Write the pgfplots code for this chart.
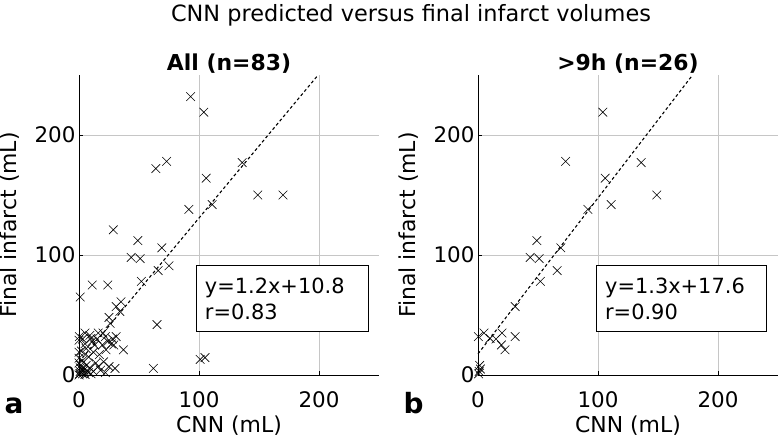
\documentclass[border=0pt]{standalone}
\usepackage{pgfplots}
\pgfplotsset{compat=1.18}
\usepackage{fontspec}
\setmainfont{DejaVu Sans}

% all cases (n=83)
\pgfplotstableread{
x y
104 219
73 178
136 177
106 164
149 150
111 142
91.5 138
49 112
43.5 98
51 97
69 106
66 87
52 78
31 57
31 32
0.3 32
5 35
10 30.5
15 30
20 35
19.5 25
22.5 21
1.4 8
1 3
2 5
0.5 1
93 232
64 172
170 150
28.6 121
75 91
11 75
24 75
1 65
35 61
34 53
25 48
65 42
26 43
37 21
27 26
101 13
105 14.5
62 5.5
29 25
22 32
16 35
11 28
5 26
0 29
0 19
12 19
20.5 11
25 7
30 5.5
16 7
8 15
3 12
6 8
4 4
2 2
0 0
1 6
3 1
7 3
9 6
12 3
14 10
18 4
22 2
0 10
0 14
2 20
6 22
9 33
13 25
17 17
28 30
24 28
3 30
8 2
5 0.5
10 1
}\tblall

% late window (>9h, n=26)
\pgfplotstableread{
x y
104 219
73 178
136 177
106 164
149 150
111 142
91.5 138
49 112
43.5 98
51 97
69 106
66 87
52 78
31 57
31 32
0.3 32
5 35
10 30.5
15 30
20 35
19.5 25
22.5 21
1.4 8
1 3
2 5
0.5 1
}\tbllate

\pgfplotsset{
  panel/.style={
    width=300bp, height=300bp, scale only axis,
    xmin=0, xmax=250, ymin=0, ymax=250,
    xtick={0,100,200}, ytick={0,100,200},
    axis x line*=bottom, axis y line*=left,
    axis line style={black, line width=0.8pt},
    tick style={black, line width=0.6pt}, tick align=inside,
    major tick length=4bp,
    grid=major, major grid style={gray!45, line width=0.6pt},
    tick label style={font=\fontsize{21.5}{24}\selectfont},
    xticklabel style={yshift=-13bp},
    /pgf/number format/assume math mode=true,
    label style={font=\fontsize{22}{25}\selectfont},
    title style={font=\fontsize{22}{25}\selectfont\bfseries, yshift=-8bp},
    xlabel={CNN (mL)}, ylabel={Final infarct (mL)},
    xlabel style={yshift=-1bp}, ylabel style={yshift=8bp},
    clip=false,
    anchor=south west,
  },
  pts/.style={only marks, mark=x, mark size=6.1bp, black, mark options={line width=0.6pt}},
  fit/.style={black, line width=1.1pt, dash pattern=on 3bp off 2.5bp},
}
\tikzset{boxtext/.style={anchor=west, align=left, font=\fontsize{21}{26}\selectfont}}

\begin{document}
\begin{tikzpicture}[x=1bp,y=1bp]
\path[use as bounding box] (0,0) rectangle (782,436);

\node[font=\fontsize{22.5}{26}\selectfont, anchor=base] at (411,414) {CNN predicted versus final infarct volumes};

\begin{axis}[panel, at={(79bp,61bp)}, title={All (n=83)}]
  \addplot[pts] table[x=x, y=y] {\tblall};
  \addplot[fit] coordinates {(0,10.8) (199.3,250)};
  \draw[black, line width=0.7pt, fill=white] (axis cs:98,36) rectangle (axis cs:241,91);
  \node[boxtext] at (axis cs:102,63.5) {y=1.2x+10.8\\r=0.83};
\end{axis}
\node[font=\fontsize{28}{30}\selectfont\bfseries, anchor=base west] at (1,22) {a};

\begin{axis}[panel, at={(478bp,61bp)}, title={>9h (n=26)}]
  \addplot[pts] table[x=x, y=y] {\tbllate};
  \addplot[fit] coordinates {(0,17.6) (178.8,250)};
  \draw[black, line width=0.7pt, fill=white] (axis cs:99,36) rectangle (axis cs:240,91);
  \node[boxtext] at (axis cs:103,63.5) {y=1.3x+17.6\\r=0.90};
\end{axis}
\node[font=\fontsize{28}{30}\selectfont\bfseries, anchor=base west] at (400,22) {b};
\end{tikzpicture}
\end{document}
